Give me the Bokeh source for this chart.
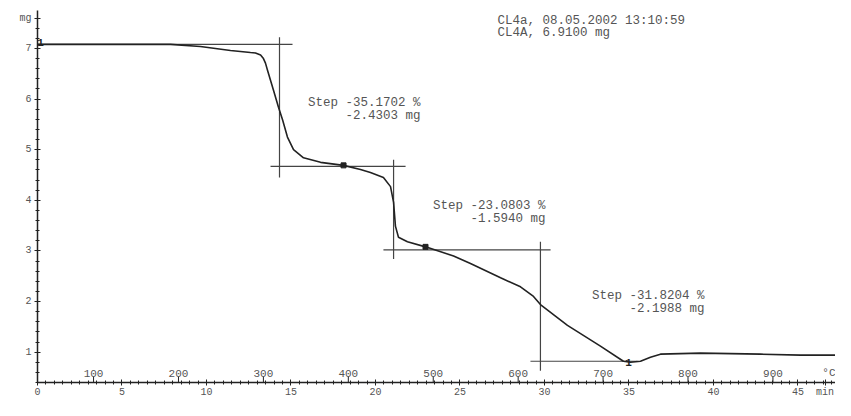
from bokeh.plotting import figure
from bokeh.models import FixedTicker, Label, Range1d
from bokeh.embed import file_html
from bokeh.resources import INLINE
from bokeh.core.properties import value

# ---- data (time in min, mass in mg) ----
TIME_MIN = [0.00, 3.73, 7.87, 9.64, 11.42, 12.60, 12.90, 13.20, 13.37, 13.49,
            13.61, 13.96, 14.26, 14.50, 14.79, 15.15, 15.74, 16.75, 18.11, 19.11,
            19.70, 20.47, 20.89, 21.07, 21.18, 21.36, 21.89, 22.96, 24.62, 25.62,
            27.40, 28.58, 29.35, 29.76, 31.36, 33.31, 34.67, 35.09, 35.68, 36.27,
            36.86, 39.23, 42.78, 45.15, 47.22]
MASS_MG = [7.08, 7.08, 7.08, 7.04, 6.96, 6.92, 6.91, 6.87, 6.80, 6.71,
           6.57, 6.18, 5.84, 5.59, 5.25, 5.00, 4.84, 4.75, 4.69, 4.61,
           4.55, 4.45, 4.27, 3.96, 3.49, 3.27, 3.18, 3.08, 2.90, 2.75,
           2.47, 2.29, 2.10, 1.94, 1.53, 1.12, 0.82, 0.80, 0.82, 0.90,
           0.96, 0.98, 0.96, 0.94, 0.94]

# step evaluation construction lines
SEG_T0 = [0.00, 14.32, 13.79, 21.07, 20.47, 29.76, 29.17]
SEG_M0 = [7.08, 7.22, 4.67, 4.80, 3.02, 3.18, 0.82]
SEG_T1 = [15.09, 14.32, 21.78, 21.07, 30.36, 29.76, 35.50]
SEG_M1 = [7.08, 4.45, 4.67, 2.84, 3.02, 0.63, 0.82]

DOT_T = [18.11, 22.96]
DOT_M = [4.69, 3.08]
LIMIT_T = [0.18, 34.97]
LIMIT_M = [7.12, 0.80]

STEP_PCT = ["Step -35.1702 %", "Step -23.0803 %", "Step -31.8204 %"]
STEP_MG = ["-2.4303 mg", "-1.5940 mg", "-2.1988 mg"]
STEP_T = [22.66, 30.06, 39.47]
STEP_M1 = [5.92, 3.88, 2.10]
STEP_M2 = [5.67, 3.63, 1.86]

HEADER = ["CL4a, 08.05.2002 13:10:59", "CL4A, 6.9100 mg"]
HEADER_T = [27.22, 27.22]
HEADER_M = [7.55, 7.31]

TIME_TICKS = [0, 5, 10, 15, 20, 25, 30, 35, 40, 45, 46.6]
TIME_LABELS = {46.6: "min"}
MASS_TICKS = [1, 2, 3, 4, 5, 6, 7, 7.6]
MASS_LABELS = {7.6: "mg"}
TEMP_TICKS = [100, 200, 300, 400, 500, 600, 700, 800, 900]
TEMP_START = 34.0   # degC at t = 0
HEAT_RATE = 19.9    # K/min

X_END = 47.22
Y_START, Y_END = 0.40, 7.75

MONO = value("Liberation Mono")
INK = "#222222"
TXT = "#555555"

p = figure(width=835, height=400, output_backend="svg", toolbar_location=None,
           x_range=Range1d(0, X_END), y_range=Range1d(Y_START, Y_END),
           min_border_left=37, min_border_right=0, min_border_top=10,
           min_border_bottom=15)
p.outline_line_color = None
p.xgrid.visible = False
p.ygrid.visible = False
p.background_fill_color = "white"
p.border_fill_color = "white"

# axes
xa = p.xaxis[0]
xa.ticker = FixedTicker(ticks=TIME_TICKS,
                        minor_ticks=[i * 0.5 for i in range(0, 95)])
xa.major_label_overrides = TIME_LABELS
xa.axis_line_color = INK
xa.axis_line_width = 1.5
xa.major_tick_in = 3
xa.major_tick_out = 3
xa.minor_tick_in = 2
xa.minor_tick_out = 2
xa.major_tick_line_color = INK
xa.minor_tick_line_color = INK
xa.major_label_standoff = 1
xa.major_label_text_font = "Liberation Mono"
xa.major_label_text_font_size = "10px"
xa.major_label_text_color = TXT

ya = p.yaxis[0]
ya.ticker = FixedTicker(ticks=MASS_TICKS,
                        minor_ticks=[round(0.4 + 0.2 * i, 1) for i in range(37)])
ya.major_label_overrides = MASS_LABELS
ya.axis_line_color = INK
ya.axis_line_width = 1.5
ya.major_tick_in = 3
ya.major_tick_out = 3
ya.minor_tick_in = 2
ya.minor_tick_out = 2
ya.major_tick_line_color = INK
ya.minor_tick_line_color = INK
ya.major_label_standoff = 3
ya.major_label_text_font = "Liberation Mono"
ya.major_label_text_font_size = "10px"
ya.major_label_text_color = TXT

# temperature scale drawn on the time axis (linear heating)
temp_t = [(T - TEMP_START) / HEAT_RATE for T in TEMP_TICKS]
p.segment(x0=temp_t, y0=[Y_START] * len(temp_t), x1=temp_t,
          y1=[Y_START + 0.12] * len(temp_t), line_color=INK, line_width=1)
p.text(x=temp_t, y=[0.58] * len(temp_t), text=[str(T) for T in TEMP_TICKS],
       text_font=MONO, text_font_size="11px", text_color=TXT,
       text_align="center", text_baseline="middle")

# construction lines
p.segment(x0=SEG_T0, y0=SEG_M0, x1=SEG_T1, y1=SEG_M1,
          line_color="#444444", line_width=1.2)

# TGA curve
p.line(TIME_MIN, MASS_MG, line_color=INK, line_width=1.6)
p.scatter(DOT_T, DOT_M, marker="square", size=5, color=INK)
p.text(x=LIMIT_T, y=LIMIT_M, text=["1", "1"], text_font=MONO,
       text_font_size="11px", text_font_style="bold", text_color=INK,
       text_align="center", text_baseline="middle")

# annotations
p.text(x=STEP_T, y=STEP_M1, text=STEP_PCT, text_font=MONO,
       text_font_size="12.5px", text_color=TXT, text_align="right",
       text_baseline="middle")
p.text(x=STEP_T, y=STEP_M2, text=STEP_MG, text_font=MONO,
       text_font_size="12.5px", text_color=TXT, text_align="right",
       text_baseline="middle")
p.text(x=HEADER_T, y=HEADER_M, text=HEADER, text_font=MONO,
       text_font_size="12.5px", text_color=TXT, text_align="left",
       text_baseline="middle")

p.add_layout(Label(x=X_END, y=0.58, text="\u00b0C", text_font="Liberation Mono",
                   text_font_size="11px", text_color=TXT, text_align="right",
                   text_baseline="middle"))

open("out.html", "w").write(file_html(p, INLINE))
